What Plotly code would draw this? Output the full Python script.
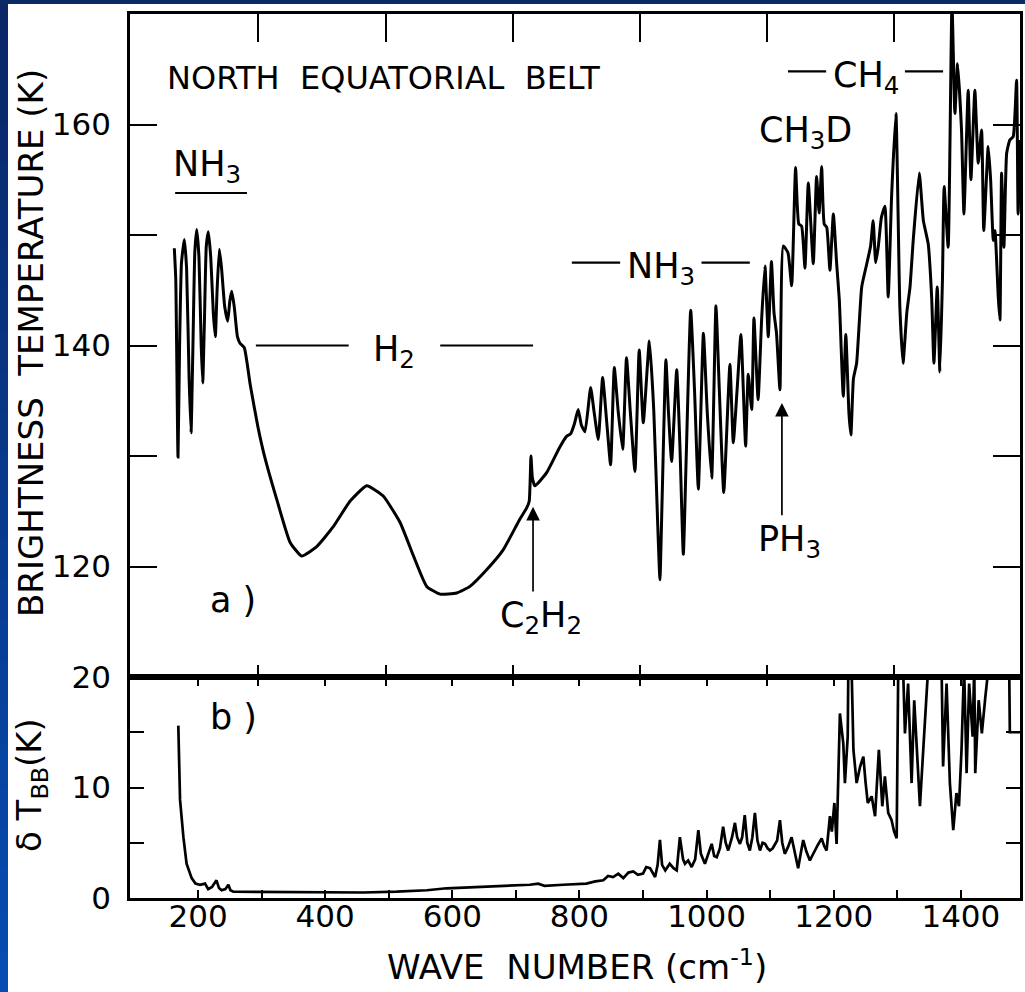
import plotly.graph_objects as go

# ---------------- data ----------------
# (a) North Equatorial Belt brightness temperature spectrum
wn_a = [162.7, 165, 168.5, 171, 174, 178.5, 182, 186, 189, 192, 195, 198, 201.5, 205, 207.4,
        210, 213, 216.2, 220, 224, 227.2, 230, 233.5, 237, 242, 246.7, 250, 253, 257, 262,
        266, 272.8, 282, 294, 305, 323.7, 344.7, 363, 386.7, 412.8, 439, 465.3, 491, 517.7,
        538.6, 559.7, 580.6, 606.9, 627.8, 654, 680, 706.4, 717, 721, 723.7, 726, 730, 748.4,
        769, 780, 786, 792, 798, 803, 808.7, 817.6, 823, 829.6, 836.5, 843, 849, 854.8, 861,
        868, 874, 880, 887.3, 894, 900.4, 910, 917, 923, 926.6, 930, 936, 940, 945, 953, 958,
        963.4, 968, 975, 981, 987, 995, 1001, 1008, 1014.7, 1020, 1027, 1036.7, 1042, 1048,
        1054, 1061.4, 1065.5, 1071, 1074.5, 1081, 1086.6, 1091.8, 1097, 1102, 1106, 1110,
        1115.4, 1120.6, 1128, 1133.8, 1140, 1145, 1149.5, 1154.7, 1160, 1167.8, 1173, 1177,
        1181, 1185, 1189, 1194, 1199.4, 1204.6, 1208.8, 1215, 1219, 1224, 1227, 1231, 1236,
        1244, 1252, 1258, 1262, 1266, 1270, 1275, 1280.5, 1285.7, 1291, 1297.8, 1304, 1309,
        1315, 1320, 1325, 1334.5, 1341, 1348.6, 1354, 1357.6, 1362.8, 1367, 1371, 1373.7,
        1380, 1386, 1390.6, 1394.8, 1401, 1404.8, 1411.5, 1415.8, 1422, 1427.3, 1432.6, 1436,
        1443, 1446.8, 1451, 1453.6, 1458.8, 1461.4, 1464, 1467.7, 1472, 1477, 1482.3, 1487.6,
        1490, 1493]
tb_a = [148.8, 146, 129.9, 140, 147.5, 149.6, 147, 137, 132.1, 140, 148.5, 150.5, 148, 140, 136.6,
        142, 149, 150.3, 148, 143, 140.8, 145, 148.7, 147, 143.5, 142.2, 144, 144.9, 143.5, 140.8,
        140.2, 139.8, 136.5, 132.7, 129.9, 126.1, 122.2, 120.95, 121.8, 123.6, 125.9, 127.3, 126.4, 124.0,
        121.0, 118.2, 117.5, 117.6, 118.2, 119.7, 121.5, 124.3, 125.3, 125.9, 130.0, 128, 127.3, 128.5,
        130.8, 131.8, 132.0, 132.9, 134.2, 132.8, 132.2, 136.2, 134, 131.5, 137.1, 133, 129.2, 138.0, 134,
        130.6, 138.9, 134, 128.6, 139.6, 133.0, 140.4, 134, 124, 118.8, 126, 138.7, 134, 129.5, 137.8, 131,
        121.1, 130, 143.2, 136, 127.0, 141.1, 134, 128.0, 143.6, 136, 126.7, 138.3, 131.2, 136,
        141.0, 130.9, 137.4, 134.2, 142.5, 135.1, 142.4, 147.2, 140.8, 147.6, 143, 141.1,
        136.0, 149.0, 148.4, 145.4, 156.1, 151, 150.8, 147, 154.7, 147.4, 155.3, 152,
        156.2, 151, 150.7, 146.8, 151.9, 147.4, 144.1, 135.4, 141, 133.8, 131.9, 137, 138.4,
        145.3, 147.4, 149, 151.3, 147.5, 148.9, 151.6, 152.6, 144.4, 153.5, 161.0, 143.5, 138.4,
        143, 145.3, 149.5, 155.6, 151.3, 149.2, 144.4, 138.4, 145.3, 137.6, 145.9, 154.4,
        148.9, 171, 161.0, 165.5, 159.5, 151.9, 163.1, 155.0, 163.1, 156.5, 159.5, 150.4,
        158.0, 155.0, 149.5, 150.4, 144.4, 142.3, 155.6, 148.9, 157.4, 158.6, 158.9, 164.0,
        151.9, 158.6]

# (b) brightness temperature uncertainty
wn_b = [169, 171.7, 177, 182, 190, 196, 203, 211, 216, 222, 229, 233, 237, 243, 247.7, 251,
        255.5, 300, 350, 407.6, 460, 512.5, 560, 591, 643.5, 680, 700, 722, 735, 745, 774.5,
        811, 825, 837.5, 845, 853, 861, 869, 877, 884.7, 892, 900, 905, 911, 919, 923, 926.6,
        930, 935, 942, 948, 953, 958, 963, 966, 971, 976.5, 982, 987, 991, 997.4, 1003, 1008,
        1012, 1016, 1021, 1026, 1030, 1034, 1040, 1044.6, 1048, 1052.5, 1056, 1060, 1064, 1068,
        1072, 1076, 1080, 1084, 1088, 1092, 1096, 1099.7, 1104, 1107.5, 1111, 1115.4, 1119,
        1123, 1128, 1133.7, 1138, 1144, 1148, 1152, 1157, 1162.5, 1166, 1170, 1175, 1181, 1185,
        1188.8, 1191, 1194, 1197, 1201, 1204.5, 1207, 1209.7, 1212, 1215, 1217.6, 1220, 1222,
        1223, 1228, 1231, 1236, 1241.5, 1246.6, 1250, 1253.5, 1259.6, 1265, 1271, 1276.4,
        1280.5, 1285.7, 1291, 1295, 1299, 1301.5, 1309, 1312, 1317, 1322.5, 1326.6, 1330.4,
        1335.6, 1340.8, 1344.6, 1348.7, 1369.6, 1372, 1377.5, 1382.7, 1388, 1393, 1397, 1401,
        1405, 1409, 1413, 1418.5, 1421, 1422.6, 1428, 1433, 1438.5, 1443.7, 1476, 1477, 1493]
dt_b = [15.6, 8.9, 5.5, 3.1, 1.8, 1.3, 1.2, 1.3, 0.8, 1.0, 1.6, 0.9, 0.7, 0.8, 1.2, 0.7,
        0.57, 0.55, 0.55, 0.5, 0.5, 0.57, 0.7, 0.88, 1.0, 1.1, 1.15, 1.2, 1.3, 1.1, 1.2,
        1.3, 1.5, 1.6, 2.0, 1.9, 2.2, 1.8, 2.3, 2.4, 2.1, 2.2, 2.8, 2.7, 1.9, 3.0, 5.25,
        3.0, 2.5, 3.1, 2.7, 2.5, 5.5, 3.5, 3.1, 3.4, 2.8, 3.5, 6.15, 4.0, 3.1, 4.0, 4.9,
        3.8, 3.7, 4.5, 6.45, 5.0, 4.3, 5.5, 6.8, 5.5, 4.9, 5.5, 7.5, 5.0, 4.3,
        5.5, 7.7, 5.2, 4.3, 5.0, 4.9, 4.5, 4.3, 4.5, 4.9, 5.2, 7.05, 5.0,
        4.0, 4.6, 5.5, 4.2, 2.7, 4.0, 5.25, 4.2, 3.4, 3.8, 4.3, 4.8, 5.4, 4.7,
        4.3, 5.5, 7.4, 6.0, 8.6, 4.9, 10.0, 16.7, 15.5, 14.0, 10.4, 12.5, 14.6,
        21, 21, 13.4, 10.4, 11.9, 12.8, 10.5, 8.6, 9.2, 7.4, 13.4, 8.3,
        11.0, 7.7, 7.05, 6.0, 5.4, 21, 21, 14.9, 19.4, 10.4, 17.9, 13.4,
        8.3, 13.4, 17.9, 21, 21, 11.9, 19.4, 10.4, 6.15, 9.5, 8.3, 13.4,
        21, 11.3, 19.4, 14.6, 21, 11.3, 17.9, 14.9, 18.2, 21, 21, 15.0, 15.0]

x_range = [93, 1493]
x_labels = [200, 400, 600, 800, 1000, 1200, 1400]
x_minor = [300, 500, 700, 900, 1100, 1300]
a_xticks = [295, 495, 695, 895, 1095, 1295]
a_ylabels = [120, 140, 160]
a_yminor = [130, 150]
b_ylabels = [0, 10, 20]
b_yminor = [5, 15]

# gas band markers: (label, band start, band end, temperature level, label half-gap)
bands = [("H<sub>2</sub>", 291, 727, 140.0, 72),
         ("NH<sub>3</sub>", 788, 1068, 147.5, 64),
         ("CH<sub>4</sub>", 1128, 1372, 164.8, 62)]

FONT = "DejaVu Sans"
W, H = 1025, 992
L, R, T, B, MID = 130, 1020, 14, 898, 677


def px(v):
    return v / W


def py(v):
    return 1 - v / H


fig = go.Figure()

fig.add_trace(go.Scatter(x=wn_a, y=tb_a, mode="lines", xaxis="x2", yaxis="y2",
                         line=dict(color="black", width=3, shape="spline", smoothing=0.45),
                         hoverinfo="skip", showlegend=False))
fig.add_trace(go.Scatter(x=wn_b, y=dt_b, mode="lines", xaxis="x", yaxis="y",
                         line=dict(color="black", width=2.7), hoverinfo="skip", showlegend=False))
# carriers for the overlaid tick-only axes
fig.add_trace(go.Scatter(x=[], y=[], xaxis="x3", yaxis="y", showlegend=False))
fig.add_trace(go.Scatter(x=[], y=[], xaxis="x4", yaxis="y2", showlegend=False))

tickfont = dict(family=FONT, size=31, color="black")
axis_common = dict(showgrid=False, zeroline=False, showline=True, linecolor="black",
                   linewidth=2.6, ticks="inside", tickcolor="black", tickwidth=2.2,
                   automargin=False)


def minor_ticks(vals, length):
    return dict(tickvals=vals, ticks="inside", ticklen=length, tickcolor="black",
                tickwidth=2.2, showgrid=False)


shapes = []
# blue page border with vertical gradient on the left edge
n = 24
c0, c1 = (10, 40, 104), (6, 76, 178)
for i in range(n):
    f = i / (n - 1)
    col = "rgb(%d,%d,%d)" % tuple(int(c0[k] + (c1[k] - c0[k]) * f) for k in range(3))
    shapes.append(dict(type="rect", xref="paper", yref="paper", layer="below",
                       x0=0, x1=px(8), y0=py(H * (i + 1) / n), y1=py(H * i / n),
                       line=dict(width=0), fillcolor=col))
shapes.append(dict(type="rect", xref="paper", yref="paper", layer="below",
                   x0=0, x1=1, y0=py(4), y1=1, line=dict(width=0), fillcolor="rgb(11,42,104)"))
shapes.append(dict(type="rect", xref="paper", yref="paper", layer="below",
                   x0=px(8), x1=1, y0=0, y1=py(4), line=dict(width=0), fillcolor="white"))

LABEL_FONT = dict(family=FONT, size=35, color="black")
annotations = []
# band marker lines around each gas label
for label, x0, x1, lev, gap in bands:
    xc = (x0 + x1) / 2
    shapes.append(dict(type="line", xref="x2", yref="y2", x0=x0, x1=xc - gap, y0=lev, y1=lev,
                       line=dict(color="black", width=2.2)))
    shapes.append(dict(type="line", xref="x2", yref="y2", x0=xc + gap, x1=x1, y0=lev, y1=lev,
                       line=dict(color="black", width=2.2)))
    annotations.append(dict(text=label, xref="x2", yref="y2", x=xc, y=lev, showarrow=False,
                            font=LABEL_FONT, yanchor="middle", yshift=-6))
# rotational NH3 label with underline
shapes.append(dict(type="line", xref="x2", yref="y2", x0=164, x1=277, y0=153.8, y1=153.8,
                   line=dict(color="black", width=2.2)))
annotations.append(dict(text="NH<sub>3</sub>", xref="x2", yref="y2", x=214, y=153.8,
                        showarrow=False, yanchor="bottom", yshift=2, font=LABEL_FONT))
annotations.append(dict(text="CH<sub>3</sub>D", xref="x2", yref="y2", x=1156, y=159.3,
                        showarrow=False, font=LABEL_FONT))
annotations.append(dict(text="NORTH  EQUATORIAL  BELT", xref="paper", yref="paper",
                        x=px(165), y=py(78), xanchor="left", yanchor="middle", showarrow=False,
                        font=dict(family=FONT, size=32, color="black")))
# feature arrows
for label, xw, tip, tail in [("C<sub>2</sub>H<sub>2</sub>", 727, 125.4, 117.6),
                             ("PH<sub>3</sub>", 1118.5, 134.8, 124.5)]:
    annotations.append(dict(text="", xref="x2", yref="y2", x=xw, y=tip, ax=xw, ay=tail,
                            axref="x2", ayref="y2", showarrow=True, arrowhead=2,
                            arrowsize=1.6, arrowwidth=1.7, arrowcolor="black"))
    annotations.append(dict(text=label, xref="x2", yref="y2", x=xw, y=tail, yanchor="top",
                            xanchor="center", showarrow=False, xshift=8, font=LABEL_FONT))
annotations.append(dict(text="a )", xref="paper", yref="paper", x=px(208), y=py(600),
                        xanchor="left", yanchor="middle", showarrow=False, font=LABEL_FONT))
annotations.append(dict(text="b )", xref="paper", yref="paper", x=px(208), y=py(717),
                        xanchor="left", yanchor="middle", showarrow=False, font=LABEL_FONT))
# axis titles
annotations.append(dict(text="BRIGHTNESS  TEMPERATURE (K)", xref="paper", yref="paper",
                        x=px(31), y=py(343), textangle=-90, showarrow=False,
                        xanchor="center", yanchor="middle",
                        font=dict(family=FONT, size=34, color="black")))
annotations.append(dict(text="δ T<sub>BB</sub>(K)", xref="paper", yref="paper",
                        x=px(31), y=py(785), textangle=-90, showarrow=False,
                        xanchor="center", yanchor="middle",
                        font=dict(family=FONT, size=34, color="black")))
annotations.append(dict(text="WAVE  NUMBER (cm<sup>-1</sup>)", xref="paper", yref="paper",
                        x=px(577), y=py(965), showarrow=False, xanchor="center",
                        yanchor="middle", font=dict(family=FONT, size=34, color="black")))

dom_x = [px(L), px(R)]
fig.update_layout(
    width=W, height=H, autosize=False,
    margin=dict(l=0, r=0, t=0, b=0, pad=0, autoexpand=False),
    paper_bgcolor="rgb(8,60,150)", plot_bgcolor="rgba(0,0,0,0)",
    showlegend=False,
    xaxis=dict(axis_common, domain=dom_x, range=x_range, anchor="y", ticklen=8,
               tickvals=x_labels, tickfont=tickfont, ticklabelstandoff=-11,
               minor=minor_ticks(x_minor, 8)),
    xaxis3=dict(axis_common, overlaying="x", side="top", anchor="y", range=x_range,
                ticklen=9, tickvals=sorted(x_labels + a_xticks), showticklabels=False),
    xaxis2=dict(axis_common, domain=dom_x, range=x_range, anchor="y2", ticklen=12,
                tickvals=a_xticks, showticklabels=False),
    xaxis4=dict(axis_common, overlaying="x2", side="top", anchor="y2", range=x_range,
                ticklen=28, tickvals=a_xticks, showticklabels=False),
    yaxis=dict(axis_common, domain=[py(B), py(MID)], range=[0, 20], anchor="x",
               ticklen=14, mirror="ticks", tickvals=b_ylabels, tickfont=tickfont,
               ticklabelstandoff=10, minor=minor_ticks(b_yminor, 14)),
    yaxis2=dict(axis_common, domain=[py(MID), py(T)], range=[110, 170], anchor="x2",
                ticklen=27, mirror="ticks", tickvals=a_ylabels, tickfont=tickfont,
                ticklabelstandoff=10, minor=minor_ticks(a_yminor, 27)),
    shapes=shapes, annotations=annotations,
)

fig.write_html("out.html")
